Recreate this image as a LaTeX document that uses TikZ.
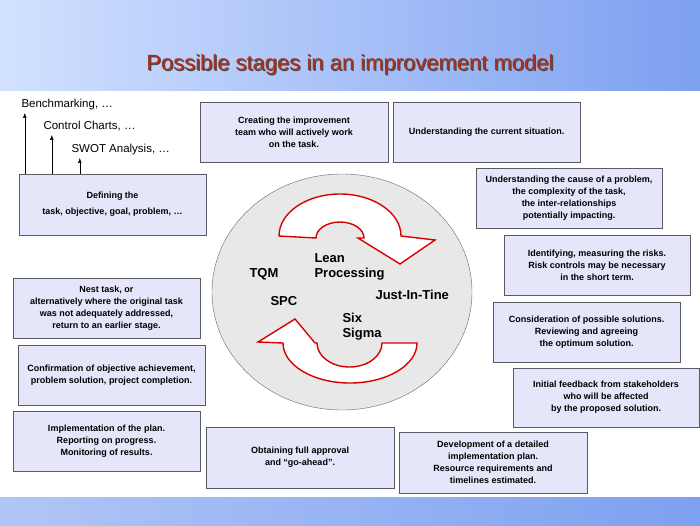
\documentclass[tikz,border=0pt]{standalone}
\usepackage{fontspec}
\setmainfont{Liberation Sans}
\usepackage{tikz}
\usetikzlibrary{arrows.meta}
\definecolor{boxfill}{RGB}{230,230,250}
\definecolor{boxline}{RGB}{90,90,100}
\definecolor{titlered}{RGB}{175,45,20}
\definecolor{bandlight}{RGB}{210,225,255}
\definecolor{banddark}{RGB}{125,160,240}
\tikzset{
  stagebox/.style = {draw = boxline, fill = boxfill, align = center, inner sep = 2pt,
    font = \fontsize{9}{12}\selectfont\bfseries},
  cycletext/.style = {align = left, anchor = north west, font = \fontsize{13}{15}\selectfont\bfseries},
  tooltext/.style = {anchor = south west, font = \fontsize{11.5}{13}\selectfont},
  bigarrow/.style = {draw = red!85!black, line width = 1.4pt, fill = white}
}
\newcommand{\stage}[6]{% name, x1, y1, x2, y2, text
  \node[stagebox, minimum width = #4 - #2, minimum height = #5 - #3] (#1) at ({(#2 + #4)/2}, {(#3 + #5)/2}) {#6};}
\begin{document}
\begin{tikzpicture}[x = 1pt, y = -1pt]
		\useasboundingbox (0, 0) rectangle (700, 525);
		\shade[left color = bandlight, right color = banddark] (0, 0) rectangle (700, 90);
		\shade[left color = banddark!60, right color = banddark] (0, 497) rectangle (700, 525);
		\node[text = black!70] at (351.2, 66.2) {\fontsize{22}{24}\selectfont Possible stages in an improvement model};
		\node[text = titlered] (title) at (350, 65) {\fontsize{22}{24}\selectfont Possible stages in an improvement model};
		% centre of the model
		\draw[fill = black!9, draw = black!60] (342, 292) ellipse (130 and 118);
		\draw[bigarrow] (279, 236) arc[start angle = 180, end angle = 360, x radius = 61, y radius = 42]
			-- (435, 240) -- (400, 264) -- (358, 238) -- (364, 238)
			arc[start angle = 0, end angle = -180, x radius = 24, y radius = 16] -- cycle;
		\draw[bigarrow] (417, 343) arc[start angle = 0, end angle = 180, x radius = 67, y radius = 40]
			-- (258, 342) -- (295, 319) -- (315, 343) -- (317, 343)
			arc[start angle = 180, end angle = 0, x radius = 32.5, y radius = 24] -- cycle;
		\node[cycletext] (lean) at (311, 250) {Lean\\Processing};
		\node[cycletext] (tqm) at (246, 265) {TQM};
		\node[cycletext] (jit) at (372, 287) {Just-In-Tine};
		\node[cycletext] (spc) at (267, 293) {SPC};
		\node[cycletext] (six) at (339, 310) {Six\\Sigma};
		% stages
		\stage{define}{19}{174}{206}{235}{Defining the\\[4pt] task, objective, goal, problem, \dots}
		\stage{team}{200}{102}{388}{162}{Creating the improvement\\team who will actively work\\on the task.}
		\stage{current}{393}{102}{580}{162}{Understanding the current situation.}
		\stage{cause}{476}{168}{662}{228}{Understanding the cause of a problem,\\the complexity of the task,\\the inter-relationships\\potentially impacting.}
		\stage{risk}{504}{235}{690}{295}{Identifying, measuring the risks.\\Risk controls may be necessary\\in the short term.}
		\stage{solution}{493}{302}{680}{362}{Consideration of possible solutions.\\Reviewing and agreeing\\the optimum solution.}
		\stage{feedback}{513}{368}{699}{427}{Initial feedback from stakeholders\\who will be affected\\by the proposed solution.}
		\stage{develop}{399}{432}{587}{493}{Development of a detailed\\implementation plan.\\Resource requirements and\\timelines estimated.}
		\stage{approval}{206}{427}{394}{488}{Obtaining full approval\\and ``go-ahead''.}
		\stage{implement}{13}{411}{200}{471}{Implementation of the plan.\\Reporting on progress.\\Monitoring of results.}
		\stage{confirm}{18}{345}{205}{405}{Confirmation of objective achievement,\\problem solution, project completion.}
		\stage{nest}{13}{278}{200}{338}{Nest task, or\\alternatively where the original task\\was not adequately addressed,\\return to an earlier stage.}
		% tools
		\node[tooltext] (bench) at (18, 113) {Benchmarking, \dots};
		\node[tooltext] (charts) at (40, 135) {Control Charts, \dots};
		\node[tooltext] (swot) at (68, 158) {SWOT Analysis, \dots};
		\draw[-Latex] ([xshift = 6]define.north west) -- ([xshift = 6]define.north west |- bench.south);
		\draw[-Latex] ([xshift = 33]define.north west) -- ([xshift = 33]define.north west |- charts.south);
		\draw[-Latex] ([xshift = 61]define.north west) -- ([xshift = 61]define.north west |- swot.south);
	\end{tikzpicture}
\end{document}
